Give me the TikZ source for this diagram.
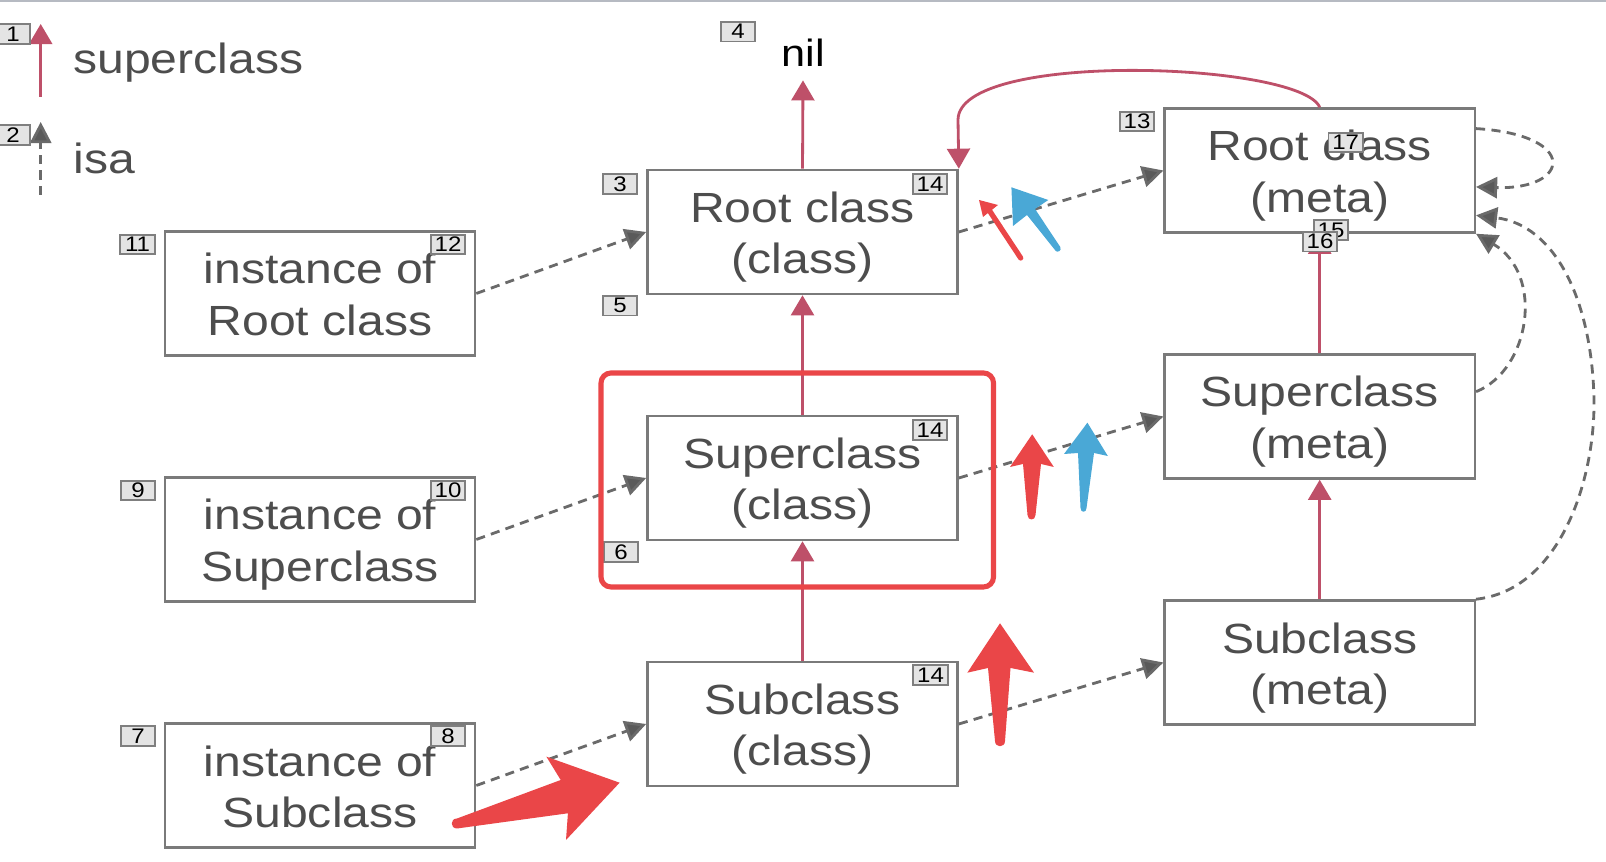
\documentclass[tikz,border=0pt]{standalone}
\usepackage{fontspec}
\setmainfont{Liberation Sans}[FakeStretch=1.14]
\usetikzlibrary{arrows.meta}
\definecolor{txtgray}{HTML}{4D4D4D}
\definecolor{boxgray}{HTML}{7A7A7A}
\definecolor{lblfill}{HTML}{E4E4E4}
\definecolor{lbldraw}{HTML}{7F7F7F}
\definecolor{supcol}{RGB}{190,80,105}
\definecolor{isacol}{HTML}{6A6A6A}
\definecolor{isahead}{HTML}{5A5A5A}
\definecolor{hired}{RGB}{234,70,72}
\definecolor{hiblue}{RGB}{74,168,214}
\definecolor{topline}{HTML}{B6BAC2}
\newcommand{\boxtxt}[2]{\rule{0pt}{12.2pt}#1\\#2\rule[-3pt]{0pt}{3pt}}
\begin{document}
\begin{tikzpicture}[x=0.01cm,y=-0.01cm,
  cbox/.style={draw=boxgray, line width=0.7pt, fill=white, minimum width=3.1cm, minimum height=1.24cm, inner sep=0pt, align=center, text=txtgray, font=\fontsize{12}{14.6}\selectfont},
  lbl/.style={draw=lbldraw, fill=lblfill, line width=0.5pt, minimum width=0.345cm, minimum height=0.195cm, inner sep=0pt, font=\fontsize{6}{6.5}\selectfont, text=black},
  suparrow/.style={draw=supcol, line width=0.8pt, -{Triangle[width=6.5pt,length=5.7pt,fill=supcol]}},
  isaarrow/.style={draw=isacol, line width=0.8pt, dash pattern=on 2.6pt off 1.8pt, -{Triangle[width=6pt,length=6pt,fill=isahead]}},
  legtext/.style={anchor=base west, inner sep=0pt, text=txtgray, font=\fontsize{12}{14}\selectfont},
]
\useasboundingbox (0,0) rectangle (1606,862);
\fill[topline] (0,0) rectangle (1606,2.5);

% legend
\coordinate (sl0) at (40.7,97);
\coordinate (sl1) at (40.7,24);
\coordinate (il0) at (40.7,195);
\coordinate (il1) at (40.7,122);
\draw[suparrow] (sl0) -- (sl1);
\draw[isaarrow] (il0) -- (il1);
\node[legtext] (lgs) at (72.7,74) {superclass};
\node[legtext] (lgi) at (72.7,174) {isa};

% nil
\node[anchor=base, inner sep=0pt, text=black, font=\fontsize{10.8}{12}\selectfont] (nil) at (803,66.7) {nil};

% boxes
\node[cbox] (rootc) at (802.5,232) {\boxtxt{Root class}{(class)}};
\node[cbox] (supc) at (802.5,478) {\boxtxt{Superclass}{(class)}};
\node[cbox] (subc) at (802.5,724) {\boxtxt{Subclass}{(class)}};
\node[cbox] (irc) at (320,293.5) {\boxtxt{instance of}{Root class}};
\node[cbox] (isc) at (320,539.5) {\boxtxt{instance of}{Superclass}};
\node[cbox] (isbc) at (320,785.5) {\boxtxt{instance of}{Subclass}};
\node[cbox] (rootm) at (1319.7,170.5) {\boxtxt{Root class}{(meta)}};
\node[cbox] (supm) at (1319.7,416.5) {\boxtxt{Superclass}{(meta)}};
\node[cbox] (subm) at (1319.7,662.5) {\boxtxt{Subclass}{(meta)}};

% superclass arrows
\draw[suparrow] (rootc.north) -- ([yshift=-0.13cm]nil.south);
\draw[suparrow] (supc.north) -- (rootc.south);
\draw[suparrow] (subc.north) -- (supc.south);
\draw[suparrow] (supm.north) -- (rootm.south);
\draw[suparrow] (subm.north) -- (supm.south);
\draw[suparrow] (rootm.north) .. controls (1300,62) and (958,50) .. (958,120) -- (rootc.north east);

% isa arrows
\draw[isaarrow] (irc.east) -- (rootc.west);
\draw[isaarrow] (isc.east) -- (supc.west);
\draw[isaarrow] (isbc.east) -- (subc.west);
\draw[isaarrow] (rootc.east) -- (rootm.west);
\draw[isaarrow] (supc.east) -- (supm.west);
\draw[isaarrow] (subc.east) -- (subm.west);
\draw[isaarrow] (rootm.15) .. controls (1580,135) and (1570,190) .. (rootm.354);
\draw[isaarrow] (supm.9) .. controls (1530,370) and (1545,275) .. (rootm.south east);
\draw[isaarrow] (subm.north east) .. controls (1560,590) and (1595,480) .. (1594,400) .. controls (1592,300) and (1555,225) .. (rootm.344);

% number labels
\node[lbl] (n1) at (13,34) {1};
\node[lbl] (n2) at (13,135) {2};
\node[lbl] (n3) at (620,184) {3};
\node[lbl] (n4) at (738,31.7) {4};
\node[lbl] (n5) at (620,305.7) {5};
\node[lbl] (n6) at (621,552) {6};
\node[lbl] (n14a) at (930,184) {14};
\node[lbl] (n14b) at (930,430) {14};
\node[lbl] (n14c) at (930.5,675) {14};
\node[lbl] (n11) at (137.5,244.5) {11};
\node[lbl] (n12) at (448,244.5) {12};
\node[lbl] (n9) at (138,490.5) {9};
\node[lbl] (n10) at (448,490.5) {10};
\node[lbl] (n7) at (138,736) {7};
\node[lbl] (n8) at (448,736) {8};
\node[lbl] (n13) at (1137,121.5) {13};
\node[lbl] (n17) at (1345.7,142.5) {17};
\node[lbl] (n15) at (1331,230) {15};
\node[lbl] (n16) at (1320,241.7) {16};

% highlight
\draw[hired, line width=1.45pt, rounded corners=0.1cm] (601,373) rectangle (993.5,587);

% annotation arrows
\draw[hired, line width=1.5pt, line cap=round] (1020.7,258) -- (989,210);
\fill[hired] (979,200) -- (998,205) -- (983,217) -- cycle;
\fill[hiblue] (1011.4,187.3) -- (1048.3,200) -- (1035,209) -- (1060.4,247.2) .. controls (1062,251) and (1057,253) .. (1055.6,250.8) -- (1027,215) -- (1013,226) -- cycle;
\fill[hired] (1032.2,434.3) -- (1053.8,467) -- (1041,464) -- (1035.5,515) .. controls (1035.5,521) and (1027.5,521) .. (1027.5,515) -- (1023,464) -- (1010,467) -- cycle;
\fill[hiblue] (1087.4,422.7) -- (1107.8,456) -- (1094,453) -- (1086.5,508) .. controls (1086.5,513) and (1080.5,513) .. (1080.5,508) -- (1078,453) -- (1064,454) -- cycle;
\fill[hired] (1000,623.3) -- (1034,672.7) -- (1010.5,668) -- (1005,741) .. controls (1005,748) and (995,748) .. (995,741) -- (988,668) -- (967.3,672.7) -- cycle;
\fill[hired] (619.6,782.7) -- (566,840) -- (567.9,813.3) -- (457,828.5) .. controls (450,828.5) and (450,818.5) .. (457,818.5) -- (560.7,780) -- (546.4,756.7) -- cycle;
\end{tikzpicture}
\end{document}
